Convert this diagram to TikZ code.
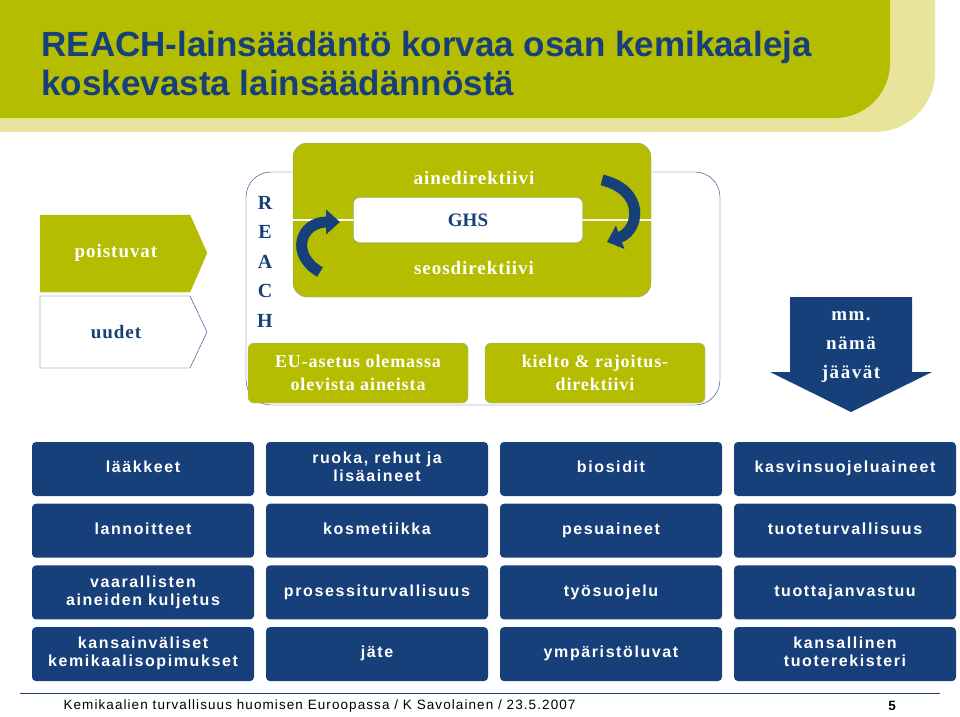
\documentclass[tikz,border=0pt]{standalone}
\usepackage{fontspec}
\setmainfont{Liberation Serif}
\setsansfont{Liberation Sans}
\usetikzlibrary{positioning,arrows.meta,shapes.arrows}
\definecolor{lime}{HTML}{B5BD00}
\definecolor{limelight}{HTML}{E8E49C}
\definecolor{navy}{HTML}{173F7A}
\newcommand\spaced[1]{\addfontfeatures{LetterSpace=#1}}
\tikzset{
  x=1pt, y=-1pt,
  gridbox/.style={fill=navy, rounded corners=4pt, minimum width=222pt, minimum height=54pt,
    text=white, font=\sffamily\bfseries\fontsize{16}{18}\selectfont\spaced{10}, align=center, inner sep=1pt},
  greenbox/.style={fill=lime, draw=navy!40, rounded corners=6pt, minimum width=220pt, minimum height=60pt,
    text=white, font=\bfseries\fontsize{18}{23}\selectfont\spaced{5}, align=center},
  wtext/.style={text=white, font=\bfseries\fontsize{19}{20}\selectfont\spaced{5}},
  curl/.style={navy, line width=11pt, -{Triangle[length=14pt,width=24pt]}}
  }
\begin{document}
\begin{tikzpicture}
  \useasboundingbox (0,0) rectangle (960,716);
  % banner
  \fill[limelight] (0,0) -- (935,0) -- (935,80) [rounded corners=60pt] -- (935,132) [sharp corners] -- (0,132) -- cycle;
  \fill[lime] (0,0) -- (890,0) -- (890,60) [rounded corners=55pt] -- (890,118) [sharp corners] -- (0,118) -- cycle;
  \node[anchor=west, text=navy, font=\sffamily\bfseries\fontsize{35}{39}\selectfont, align=left] (title) at (38,63)
    {REACH-lainsäädäntö korvaa osan kemikaaleja\\koskevasta lainsäädännöstä};
  % left arrows
  \draw[fill=lime, draw=lime] (40,215) -- (190,215) -- (207,253) -- (190,292) -- (40,292) -- cycle;
  \node[wtext] (poistuvat) at (116,253) {poistuvat};
  \draw[fill=white, draw=navy] (40,296) -- (190,296) -- (207,332) -- (190,368) -- (40,368) -- cycle;
  \node[wtext, text=navy] (uudet) at (116,332) {uudet};
  % REACH frame
  \draw[navy, rounded corners=25pt] (246,172) rectangle (720,405);
  \fill[lime, draw=navy!50, rounded corners=14pt] (293,143) rectangle (651,297);
  \draw[white, line width=2.5pt] (293,220) -- (651,220);
  \node[fill=white, draw=navy!50, rounded corners=6pt, minimum width=229pt, minimum height=45pt,
    font=\bfseries\fontsize{19}{19}\selectfont, text=navy] (ghs) at (468,220) {GHS};
  \node[wtext] (aine) at (474,178) {ainedirektiivi};
  \node[wtext] (seos) at (474,268) {seosdirektiivi};
  \foreach \l [count=\i] in {R,E,A,C,H}
    \node[text=navy, font=\bfseries\fontsize{20}{20}\selectfont] (reach\i) at (265,173+29.5*\i) {\l};
  \node[greenbox] (euasetus) at (358,373) {EU-asetus olemassa\\olevista aineista};
  \node[greenbox] (kielto) at (595,373) {kielto \& rajoitus-\\direktiivi};
  \coordinate (l1) at (320,272);
  \coordinate (l2) at (340,222);
  \draw[curl] (l1) .. controls (290,255) and (300,222) .. (l2);
  \coordinate (r1) at (602,180);
  \coordinate (r2) at (607,242);
  \draw[curl] (r1) .. controls (645,190) and (640,230) .. (r2);
  % mm. nämä jäävät
  \fill[navy] (790,297) -- (912,297) -- (912,372) -- (932,372) -- (851,412) -- (770,372) -- (790,372) -- cycle;
  \node[text=white, font=\bfseries\fontsize{19}{29}\selectfont\spaced{8}, align=center] (jaavat) at (851,347)
    {mm.\\nämä\\jäävät};
  % grid
  \foreach \t [count=\i from 0] in {
      lääkkeet, {ruoka, rehut ja\\lisäaineet}, biosidit, kasvinsuojeluaineet,
      lannoitteet, kosmetiikka, pesuaineet, tuoteturvallisuus,
      {vaarallisten\\aineiden kuljetus}, prosessiturvallisuus, työsuojelu, tuottajanvastuu,
      {kansainväliset\\kemikaalisopimukset}, jäte, ympäristöluvat, {kansallinen\\tuoterekisteri}}
  {
    \pgfmathtruncatemacro\cx{mod(\i,4)}
    \pgfmathtruncatemacro\cy{div(\i,4)}
    \node[gridbox] (g\i) at (143+234*\cx, 469+61.7*\cy) {\strut\t\strut};
  }
  % footer
  \draw[navy, line width=0.8pt] (20,693) -- (940,693);
  \node[anchor=west, font=\sffamily\fontsize{13.5}{13.5}\selectfont\spaced{8}] (foot) at (60,706)
    {Kemikaalien turvallisuus huomisen Euroopassa / K Savolainen / 23.5.2007};
  \node[font=\sffamily\bfseries\fontsize{13.5}{13.5}\selectfont] (page) at (892,706) {5};
\end{tikzpicture}
\end{document}
